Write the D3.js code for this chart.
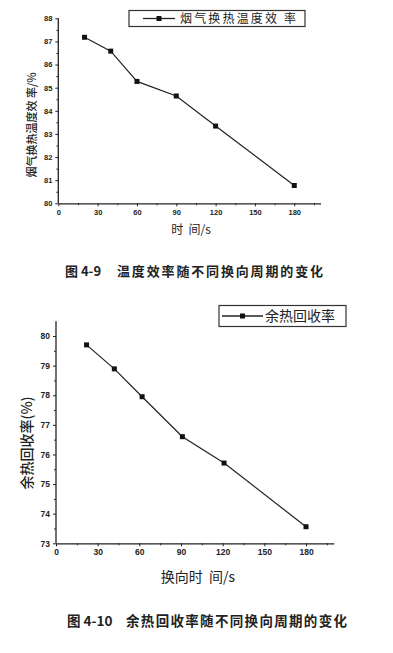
<!DOCTYPE html>
<html><head><meta charset="utf-8">
<script src="https://cdn.jsdelivr.net/npm/d3@7"></script>
<style>
html,body{margin:0;padding:0;background:#fff;}
svg{display:block;}
.tick text{font-family:"Liberation Sans",Arial,sans-serif;font-weight:bold;fill:#222;}
.cjk{font-family:"Noto Sans CJK SC",sans-serif;fill:#222;white-space:pre;}
</style>
</head><body>
<script>
// ---- data ----
const periods1 = [20, 40, 60, 90, 120, 180];
const tempEff = [87.18, 86.58, 85.27, 84.64, 83.34, 80.77];
const periods2 = [22, 42, 62, 91, 121, 180];
const heatRec = [79.70, 78.89, 77.95, 76.60, 75.71, 73.56];
const xTicks = [0, 30, 60, 90, 120, 150, 180];
const yTicks1 = [80, 81, 82, 83, 84, 85, 86, 87, 88];
const yTicks2 = [73, 74, 75, 76, 77, 78, 79, 80];
const legend1 = "烟气换热温度效 率";
const legend2 = "余热回收率";
const ylabel1 = "烟气换热温度效 率/%";
const ylabel2 = "余热回收率(%)";
const xlabel1 = "时  间/s";
const xlabel2 = "换向时  间/s";
const caption1 = ["图 4-9", "温度效率随不同换向周期的变化"];
const caption2 = ["图 4-10", "余热回收率随不同换向周期的变化"];

const svg = d3.select("body").append("svg").attr("width", 393).attr("height", 653);
svg.append("rect").attr("width", 393).attr("height", 653).attr("fill", "#fff");

function chart(o) {
  const g = svg.append("g");
  const x = d3.scaleLinear().domain([0, 200]).range([o.x0, o.x1]);
  const y = d3.scaleLinear().domain(o.ydom).range([o.y0, o.y1]);
  // minor x
  g.append("g").attr("transform", `translate(0,${o.y0})`)
    .call(d3.axisBottom(x).tickValues(d3.range(15, 200, 30)).tickSize(2).tickFormat(""))
    .call(s => s.select(".domain").remove())
    .selectAll("line").attr("stroke", "#333");
  // major x
  const gx = g.append("g").attr("transform", `translate(0,${o.y0})`)
    .call(d3.axisBottom(x).tickValues(xTicks).tickSize(3).tickSizeOuter(0).tickPadding(3).tickFormat(d3.format("d")));
  gx.select(".domain").attr("stroke", "#222").attr("stroke-width", 1.3);
  gx.selectAll(".tick line").attr("stroke", "#222");
  gx.selectAll(".tick text").attr("font-size", o.tickFont);
  // minor y
  g.append("g").attr("transform", `translate(${o.x0},0)`)
    .call(d3.axisLeft(y).tickValues(d3.range(o.ydom[0] + 0.5, o.ydom[1], 1)).tickSize(2).tickFormat(""))
    .call(s => s.select(".domain").remove())
    .selectAll("line").attr("stroke", "#333");
  const gy = g.append("g").attr("transform", `translate(${o.x0},0)`)
    .call(d3.axisLeft(y).tickValues(o.yTicks).tickSize(3).tickSizeOuter(0).tickPadding(3).tickFormat(d3.format("d")));
  gy.select(".domain").remove();
  gy.selectAll(".tick line").attr("stroke", "#222");
  gy.selectAll(".tick text").attr("font-size", o.tickFont);
  g.append("line").attr("x1", o.x0).attr("x2", o.x0).attr("y1", o.y0).attr("y2", y(o.yTop))
    .attr("stroke", "#222").attr("stroke-width", 1.3);
  // series
  const pts = o.xs.map((d, i) => [d, o.ys[i]]);
  g.append("path").datum(pts)
    .attr("d", d3.line().x(d => x(d[0])).y(d => y(d[1])))
    .attr("fill", "none").attr("stroke", "#222").attr("stroke-width", 1.2);
  g.selectAll("rect.m").data(pts).join("rect").attr("class", "m")
    .attr("x", d => x(d[0]) - 2.5).attr("y", d => y(d[1]) - 2.5)
    .attr("width", 5).attr("height", 5).attr("fill", "#111");
  // legend
  const L = o.legend;
  g.append("rect").attr("x", L.x).attr("y", L.y).attr("width", L.w).attr("height", L.h)
    .attr("fill", "#fff").attr("stroke", "#333").attr("stroke-width", 1.2);
  g.append("line").attr("x1", L.lx0).attr("x2", L.lx1).attr("y1", L.y + L.h / 2).attr("y2", L.y + L.h / 2)
    .attr("stroke", "#222").attr("stroke-width", 1.3);
  g.append("rect").attr("x", (L.lx0 + L.lx1) / 2 - 2.5).attr("y", L.y + L.h / 2 - 2.5)
    .attr("width", 5).attr("height", 5).attr("fill", "#111");
  g.append("text").attr("class", "cjk").attr("x", L.tx).attr("y", L.y + L.h / 2)
    .attr("dy", "0.36em").attr("font-size", L.fs).attr("textLength", L.tl).attr("lengthAdjust", "spacing")
    .text(L.text);
  // axis labels
  g.append("text").attr("class", "cjk")
    .attr("transform", `translate(${o.ylab.x},${o.ylab.y}) rotate(-90)`)
    .attr("text-anchor", "middle").attr("dy", "0.36em").attr("font-size", o.ylab.fs)
    .attr("font-weight", 500).text(o.ylab.text);
  g.append("text").attr("class", "cjk").attr("x", o.xlab.x).attr("y", o.xlab.y)
    .attr("text-anchor", "middle").attr("dy", "0.36em").attr("font-size", o.xlab.fs)
    .text(o.xlab.text);
  // caption
  const C = o.cap;
  g.append("text").attr("class", "cjk").attr("x", C.x0).attr("y", C.y).attr("dy", "0.36em")
    .attr("font-size", C.fs).attr("font-weight", 700).text(C.text[0]);
  g.append("text").attr("class", "cjk").attr("x", C.x1).attr("y", C.y).attr("dy", "0.36em")
    .attr("font-size", C.fs).attr("font-weight", 700)
    .attr("textLength", C.tl).attr("lengthAdjust", "spacing").text(C.text[1]);
}

chart({
  x0: 58.3, x1: 320.5, y0: 203.3, y1: 18.3, ydom: [80, 88], yTop: 88, yTicks: yTicks1,
  xs: periods1, ys: tempEff, tickFont: 7.5,
  legend: { x: 129, y: 10.5, w: 176, h: 16, lx0: 143, lx1: 175, tx: 180, fs: 12, tl: 116, text: legend1 },
  ylab: { x: 32, y: 125, fs: 11, text: ylabel1 },
  xlab: { x: 191, y: 229.5, fs: 12, text: xlabel1 },
  cap: { x0: 65, x1: 117, y: 271, fs: 13, tl: 206, text: caption1 }
});

chart({
  x0: 56, x1: 333.8, y0: 543.3, y1: 336, ydom: [73, 80], yTop: 80.5, yTicks: yTicks2,
  xs: periods2, ys: heatRec, tickFont: 8.5,
  legend: { x: 219, y: 305.5, w: 127, h: 21, lx0: 222, lx1: 263, tx: 265, fs: 14, tl: 70, text: legend2 },
  ylab: { x: 27, y: 443, fs: 14, text: ylabel2 },
  xlab: { x: 198, y: 576.5, fs: 14, text: xlabel2 },
  cap: { x0: 67, x1: 126, y: 621, fs: 13.5, tl: 221, text: caption2 }
});
</script>
</body></html>
